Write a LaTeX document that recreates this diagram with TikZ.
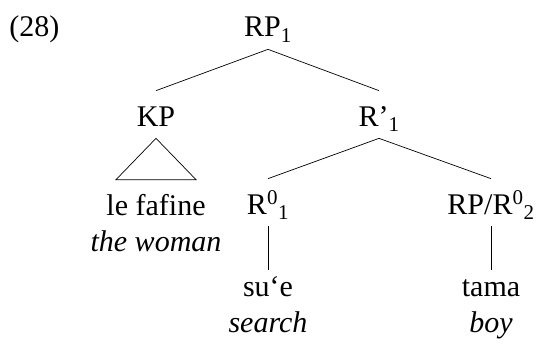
\documentclass[tikz,border=0pt]{standalone}
\usepackage{fontspec}
\setmainfont{Liberation Serif}
\tikzset{
  lbl/.style={font=\fontsize{30}{36}\selectfont, anchor=base, inner xsep=0pt, inner ysep=9pt, text height=26pt, text depth=3pt},
  leaf/.style={lbl, text height=17pt},
  gloss/.style={font=\fontsize{30}{36}\selectfont\itshape, anchor=base, inner sep=0pt}
}
\begin{document}
\begin{tikzpicture}[x=1pt,y=-1pt,line width=0.7pt]
  \useasboundingbox (0,0) rectangle (540,350);
  % example number
  \node[font=\fontsize{30}{36}\selectfont, anchor=base west, inner sep=0pt] (ex) at (9,37) {(28)};
  % RP_1
  \node[lbl] (rp) at (268,37) {RP\textsubscript{1}};
  % KP and its triangle
  \node[lbl] (kp) at (156,126) {KP};
  \node[lbl] (lf) at (156,215) {le fafine};
  \node[gloss] (lfg) at (156,251) {the woman};
  % R'_1
  \node[lbl] (rbar) at (379,126) {R’\textsubscript{1}};
  % R^0_1
  \node[lbl] (rzero) at (268,214) {R\textsuperscript{0}\textsubscript{1}};
  \node[leaf] (sue) at (268,296) {su‘e};
  \node[gloss] (sueg) at (268,332) {search};
  % RP/R^0_2
  \node[lbl] (rptwo) at (491,214) {RP/R\textsuperscript{0}\textsubscript{2}};
  \node[leaf] (tama) at (491,296) {tama};
  \node[gloss] (tamag) at (491,332) {boy};
  % branches
  \draw (rp.south) -- (kp.north);
  \draw (rp.south) -- (rbar.north);
  \draw (kp.south) -- ([xshift=-40pt]lf.north) -- ([xshift=40pt]lf.north) -- cycle;
  \draw (rbar.south) -- (rzero.north);
  \draw (rbar.south) -- (rptwo.north);
  \draw (rzero.south) -- (sue.north);
  \draw (rptwo.south) -- (tama.north);
\end{tikzpicture}
\end{document}
